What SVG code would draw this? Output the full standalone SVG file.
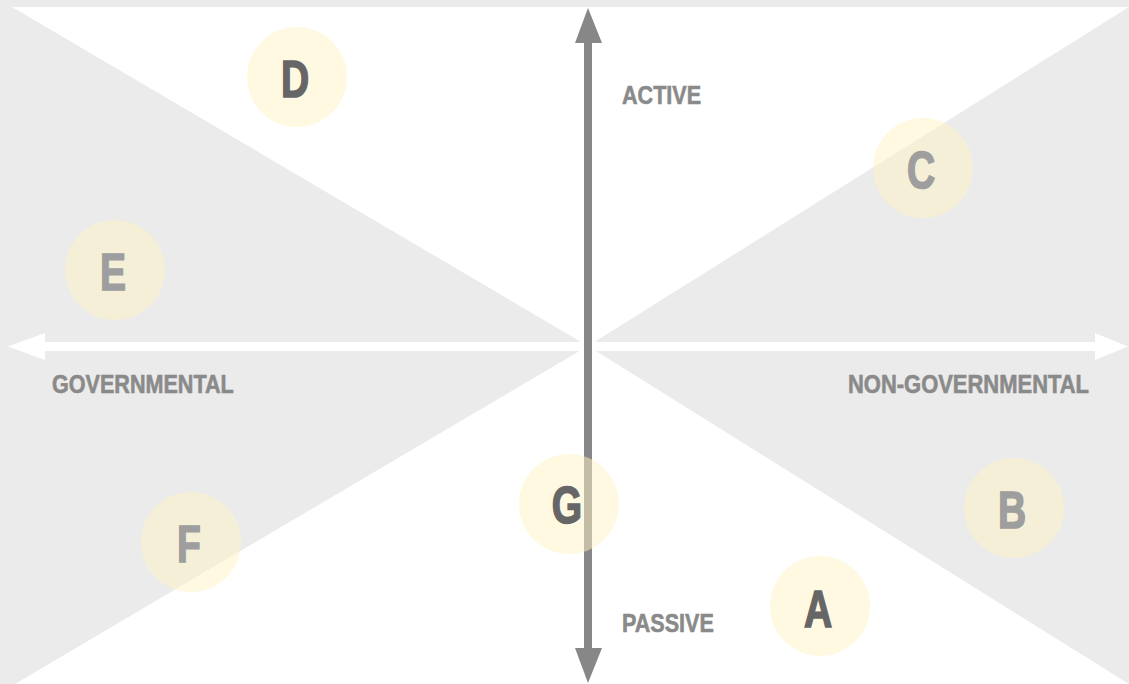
<svg xmlns="http://www.w3.org/2000/svg" width="1129" height="684" viewBox="0 0 1129 684">
<style>
.lbl{font-family:"Liberation Sans",Arial,sans-serif;font-weight:bold;font-size:26px;fill:#8a8a8a;stroke:#8a8a8a;stroke-width:0.6}
.dot{fill:#fff3c4;fill-opacity:0.5}
.let{font-family:"Liberation Sans",Arial,sans-serif;font-weight:bold;font-size:52px;text-anchor:middle;stroke-width:1.6}
.dk{fill:#666666;stroke:#666666}
.lt{fill:#9e9e9e;stroke:#9e9e9e}
</style>
<rect width="1129" height="684" fill="#ebebeb"/>
<polygon points="12,7 1129,7 588,346" fill="#ffffff"/>
<polygon points="15,684 1129,684 588,346" fill="#ffffff"/>
<rect x="581" y="7" width="14" height="677" fill="#ffffff"/>
<g id="connectors">
<g id="axis-horizontal" fill="#ffffff">
<rect x="44" y="342" width="1052" height="9"/>
<polygon points="8,346.5 45,333 45,360"/>
<polygon points="1128,346.5 1095,333 1095,360"/>
</g>
<g id="axis-vertical" fill="#878787">
<rect x="584" y="42" width="8" height="608"/>
<polygon points="588,8 575,43 602,43"/>
<polygon points="588,683 575,648 602,648"/>
</g>
</g>
<g id="labels">
<text class="lbl" transform="translate(622,104) scale(0.83,1)">ACTIVE</text>
<text class="lbl" transform="translate(622,632) scale(0.83,1)">PASSIVE</text>
<text class="lbl" transform="translate(52,393) scale(0.83,1)">GOVERNMENTAL</text>
<text class="lbl" transform="translate(848,393) scale(0.845,1)">NON-GOVERNMENTAL</text>
</g>
<g id="node-D"><circle class="dot" cx="297" cy="77" r="50"/><text class="let dk" transform="translate(295,97) scale(0.75,1)">D</text></g>
<g id="node-C"><circle class="dot" cx="923" cy="168" r="50"/><text class="let lt" transform="translate(921,188) scale(0.75,1)">C</text></g>
<g id="node-E"><circle class="dot" cx="115" cy="270" r="50"/><text class="let lt" transform="translate(113,290) scale(0.75,1)">E</text></g>
<g id="node-G"><circle class="dot" cx="569" cy="504" r="50"/><text class="let dk" transform="translate(567,523) scale(0.75,1)">G</text></g>
<g id="node-B"><circle class="dot" cx="1014" cy="508" r="50"/><text class="let lt" transform="translate(1012,528) scale(0.75,1)">B</text></g>
<g id="node-F"><circle class="dot" cx="191" cy="542" r="50"/><text class="let lt" transform="translate(189,562) scale(0.75,1)">F</text></g>
<g id="node-A"><circle class="dot" cx="820" cy="606" r="50"/><text class="let dk" transform="translate(818,627) scale(0.75,1)">A</text></g>
</svg>
